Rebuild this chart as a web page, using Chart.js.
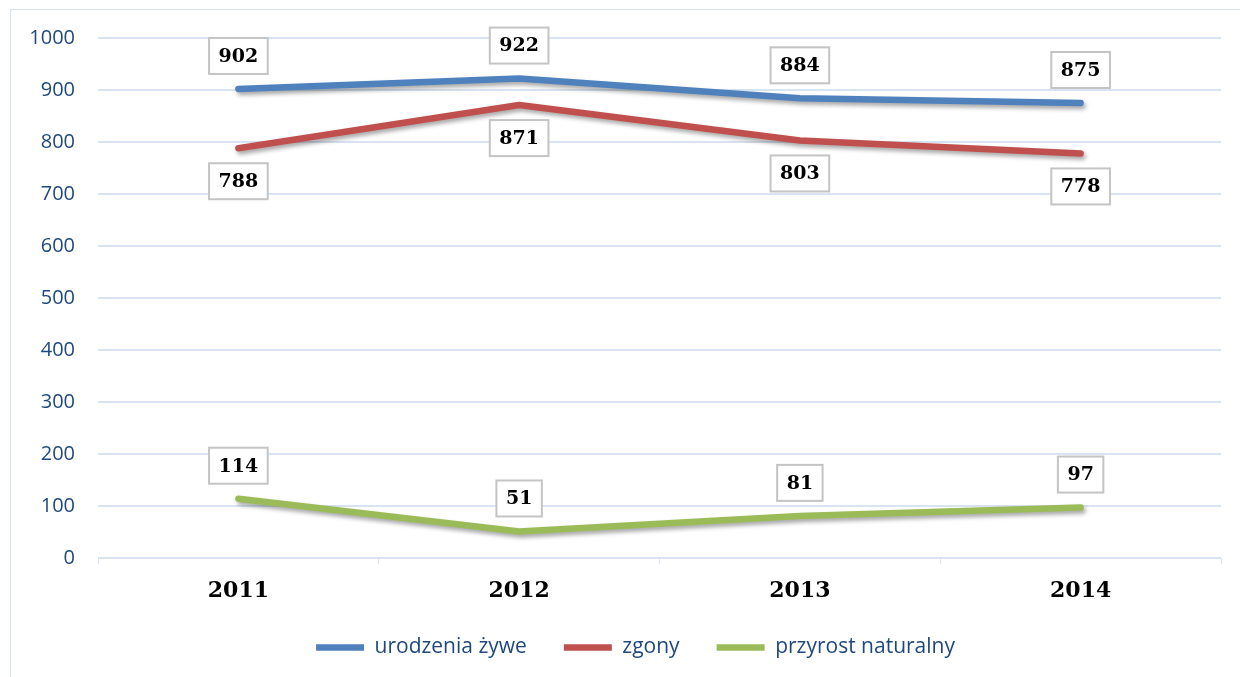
<!DOCTYPE html>
<html>
<head>
<meta charset="utf-8">
<script src="https://cdn.jsdelivr.net/npm/chart.js@4/dist/chart.umd.min.js"></script>
<style>
  html, body { margin: 0; padding: 0; background: #fff; }
  #wrap { position: relative; width: 1240px; height: 677px; overflow: hidden; }
  #ramka { position: absolute; left: 10px; top: 9px; width: 1260px; height: 700px;
           border: 1px solid #d7e1ee; box-sizing: border-box; pointer-events: none; }
</style>
</head>
<body>
<div id="wrap">
  <canvas id="wykres" width="1240" height="677"></canvas>
  <div id="ramka"></div>
</div>
<script>
// dane z wykresu
const lata = ['2011', '2012', '2013', '2014'];
const urodzenia = [902, 922, 884, 875];
const zgony = [788, 871, 803, 778];
const przyrost = [114, 51, 81, 97];
const nazwySerii = ['urodzenia żywe', 'zgony', 'przyrost naturalny'];
const osY = { min: 0, max: 1000, krok: 100 };

const KOLOR_SIATKI = '#d9e4f2';
const KOLOR_TEKSTU = '#1f497d';

// cien pod liniami (jak w Excelu)
const cienLinii = {
    id: 'cienLinii',
    beforeDatasetDraw(chart) {
        const ctx = chart.ctx;
        ctx.save();
        ctx.shadowColor = 'rgba(0,0,0,0.35)';
        ctx.shadowBlur = 4;
        ctx.shadowOffsetX = 2;
        ctx.shadowOffsetY = 3;
    },
    afterDatasetDraw(chart) {
        chart.ctx.restore();
    }
};

// legenda w oryginale jest troche przesunieta w prawo
const przesunLegende = {
    id: 'przesunLegende',
    afterLayout(chart) {
        if (chart.legend) chart.legend.left += 50;
    }
};

// etykiety wartosci w ramkach
const etykiety = {
    id: 'etykiety',
    afterDatasetsDraw(chart) {
        const ctx = chart.ctx;
        ctx.save();
        ctx.font = 'bold 19px "DejaVu Serif"';
        ctx.textAlign = 'center';
        ctx.textBaseline = 'middle';
        chart.data.datasets.forEach((ds, i) => {
            const meta = chart.getDatasetMeta(i);
            meta.data.forEach((pt, j) => {
                const txt = String(ds.data[j]);
                const w = ctx.measureText(txt).width + 19;
                const h = 36;
                const cy = pt.y + ds.strona * 33;
                ctx.fillStyle = '#fff';
                ctx.fillRect(pt.x - w / 2, cy - h / 2, w, h);
                ctx.strokeStyle = '#c4c4c4';
                ctx.lineWidth = 2;
                ctx.strokeRect(pt.x - w / 2, cy - h / 2, w, h);
                ctx.fillStyle = '#000';
                ctx.fillText(txt, pt.x, cy + 1);
            });
        });
        ctx.restore();
    }
};

function seria(nazwa, dane, kolor, strona) {
    return {
        label: nazwa,
        data: dane,
        borderColor: kolor,
        backgroundColor: kolor,
        borderWidth: 6.5,
        borderCapStyle: 'round',
        borderJoinStyle: 'round',
        pointRadius: 0,
        pointHoverRadius: 0,
        tension: 0,
        fill: false,
        strona: strona
    };
}

new Chart(document.getElementById('wykres'), {
    type: 'line',
    data: {
        labels: lata,
        datasets: [
            seria(nazwySerii[0], urodzenia, '#4f81bd', -1),
            seria(nazwySerii[1], zgony, '#c0504d', 1),
            seria(nazwySerii[2], przyrost, '#9bbb59', -1)
        ]
    },
    options: {
        responsive: false,
        animation: false,
        layout: { padding: { top: 38, right: 19, left: 0, bottom: 9 } },
        plugins: {
            tooltip: { enabled: false },
            legend: {
                position: 'bottom',
                labels: {
                    usePointStyle: true,
                    pointStyle: 'line',
                    pointStyleWidth: 48,
                    boxHeight: 21,
                    padding: 37,
                    color: KOLOR_TEKSTU,
                    font: { family: '"Open Sans"', size: 21 }
                }
            }
        },
        scales: {
            x: {
                offset: true,
                afterFit: s => { s.height = 42; },
                grid: {
                    offset: true,
                    drawOnChartArea: false,
                    drawTicks: true,
                    tickLength: 6,
                    color: KOLOR_SIATKI
                },
                border: { display: true, color: KOLOR_SIATKI },
                ticks: {
                    color: '#000',
                    padding: 14,
                    font: { family: '"DejaVu Serif"', weight: 'bold', size: 22 }
                }
            },
            y: {
                min: osY.min,
                max: osY.max,
                afterFit: s => { s.width = 98; },
                grid: { color: KOLOR_SIATKI, lineWidth: 2, drawTicks: false },
                border: { display: false },
                ticks: {
                    stepSize: osY.krok,
                    padding: 23,
                    color: KOLOR_TEKSTU,
                    font: { family: '"Open Sans"', size: 20 },
                    callback: v => String(v)
                }
            }
        }
    },
    plugins: [cienLinii, przesunLegende, etykiety]
});
</script>
</body>
</html>
